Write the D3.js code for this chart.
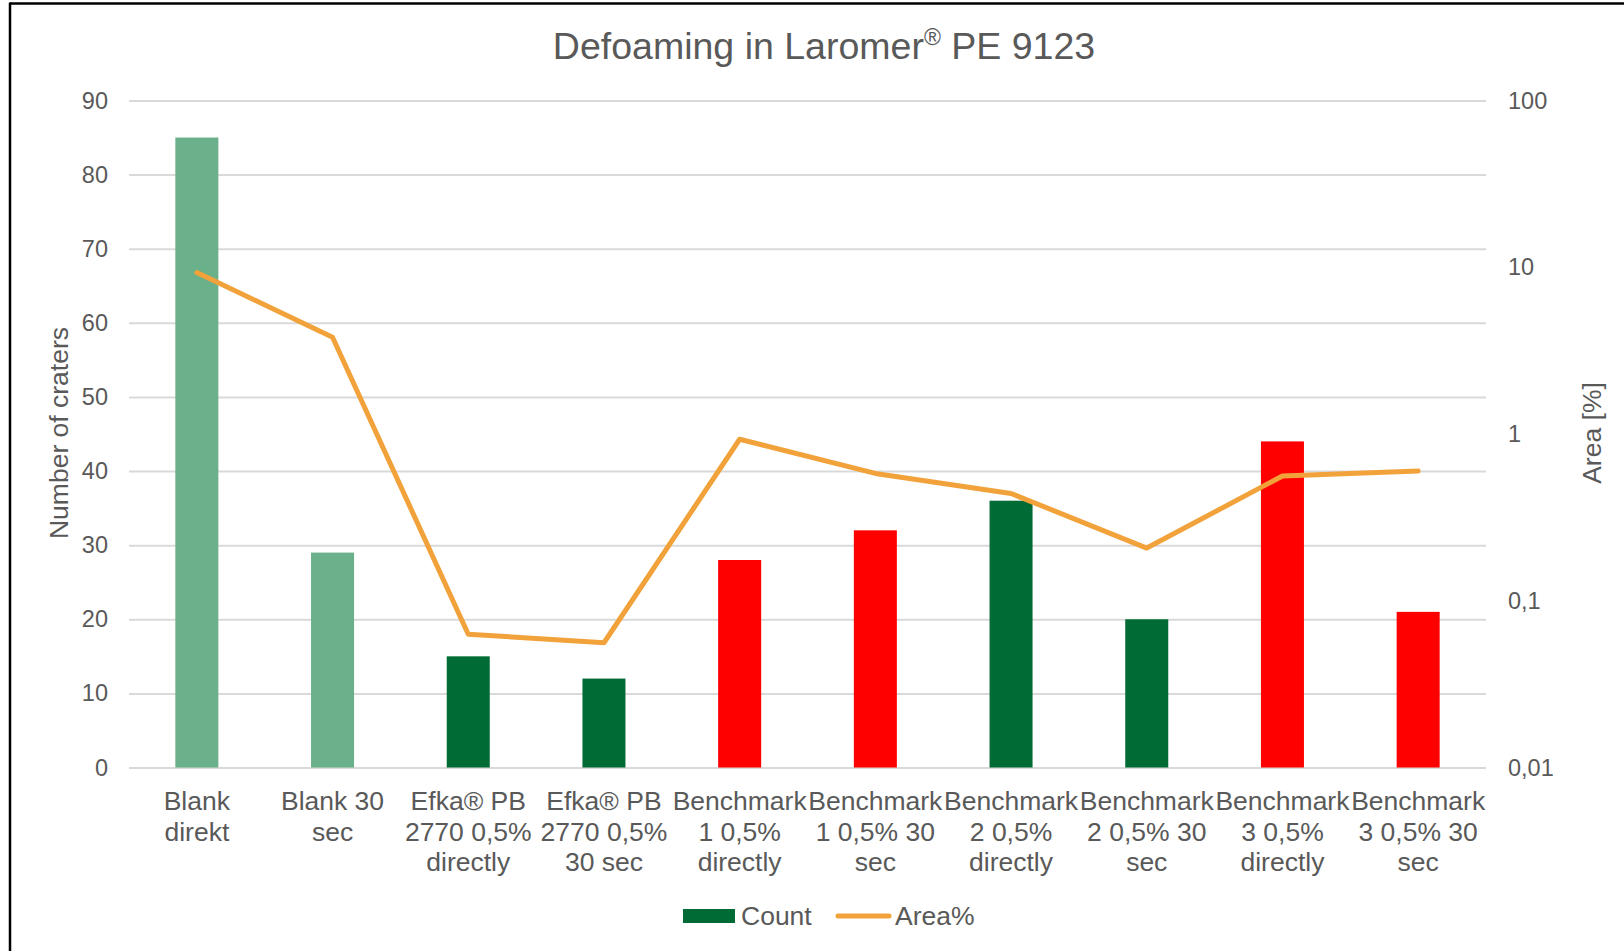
<!DOCTYPE html>
<html>
<head>
<meta charset="utf-8">
<script src="https://cdn.jsdelivr.net/npm/d3@7"></script>
<style>
  html, body { margin: 0; padding: 0; background: #fff; }
  svg { display: block; }
  text { font-family: "Liberation Sans", Arial, sans-serif; fill: #595959; }
</style>
</head>
<body>
<svg id="chart" width="1624" height="951"></svg>
<script>
// ---- data ----
const categories = [
  ["Blank", "direkt"],
  ["Blank 30", "sec"],
  ["Efka® PB", "2770 0,5%", "directly"],
  ["Efka® PB", "2770 0,5%", "30 sec"],
  ["Benchmark", "1 0,5%", "directly"],
  ["Benchmark", "1 0,5% 30", "sec"],
  ["Benchmark", "2 0,5%", "directly"],
  ["Benchmark", "2 0,5% 30", "sec"],
  ["Benchmark", "3 0,5%", "directly"],
  ["Benchmark", "3 0,5% 30", "sec"]
];
const countValues = [85, 29, 15, 12, 28, 32, 36, 20, 44, 21];
const areaValues = [9.3, 3.8, 0.063, 0.056, 0.93, 0.58, 0.44, 0.207, 0.56, 0.6];
const barGroup = ["blank", "blank", "good", "good", "bad", "bad", "good", "good", "bad", "bad"];
const leftTicks = [0, 10, 20, 30, 40, 50, 60, 70, 80, 90];
const rightTicks = [0.01, 0.1, 1, 10, 100];
const rightTickLabels = ["0,01", "0,1", "1", "10", "100"];
const seriesNames = ["Count", "Area%"];
const titleMain = "Defoaming in Laromer";
const titleSup = "®";
const titleRest = " PE 9123";
const yLeftTitle = "Number of craters";
const yRightTitle = "Area [%]";

// ---- styles ----
const groupColor = { blank: "#6AB08A", good: "#006B35", bad: "#FF0000" };
const lineColor = "#F2A23A";
const gridColor = "#D9D9D9";

const svg = d3.select("#chart");
const plot = { left: 129, right: 1486, top: 100.5, bottom: 767.5 };

// border (top + left)
svg.append("line").attr("x1", 10).attr("x2", 1624).attr("y1", 3.5).attr("y2", 3.5)
  .attr("stroke", "#000").attr("stroke-width", 2.5);
svg.append("line").attr("x1", 10).attr("x2", 10).attr("y1", 2.5).attr("y2", 951)
  .attr("stroke", "#000").attr("stroke-width", 2.5);

const idx = d3.range(categories.length);
const x = d3.scaleBand().domain(idx).range([plot.left, plot.right])
  .paddingInner(0.683).paddingOuter(0.3415);
const yL = d3.scaleLinear().domain([0, 90]).range([plot.bottom, plot.top]);
const yR = d3.scaleLog().domain([0.01, 100]).range([plot.bottom, plot.top]);

// gridlines + left axis
const gL = svg.append("g").attr("transform", `translate(${plot.left},0)`)
  .call(d3.axisLeft(yL).tickValues(leftTicks).tickSize(-(plot.right - plot.left)).tickPadding(21));
gL.select(".domain").remove();
gL.selectAll(".tick line").attr("stroke", gridColor).attr("stroke-width", 2);
gL.selectAll(".tick text").style("font-size", "23.5px").attr("fill", "#595959")
  .style("font-family", "'Liberation Sans', Arial, sans-serif");

// right axis
const gR = svg.append("g").attr("transform", `translate(${plot.right},0)`)
  .call(d3.axisRight(yR).tickValues(rightTicks).tickSize(0).tickPadding(22)
    .tickFormat((d, i) => rightTickLabels[i]));
gR.select(".domain").remove();
gR.selectAll(".tick text").style("font-size", "23.5px").attr("fill", "#595959")
  .style("font-family", "'Liberation Sans', Arial, sans-serif");

// bars
svg.append("g").selectAll("rect").data(idx).join("rect")
  .attr("x", i => x(i))
  .attr("width", x.bandwidth())
  .attr("y", i => yL(countValues[i]))
  .attr("height", i => yL(0) - yL(countValues[i]))
  .attr("fill", i => groupColor[barGroup[i]]);

// line
const line = d3.line()
  .x((d, i) => x(i) + x.bandwidth() / 2)
  .y(d => yR(d));
svg.append("path").datum(areaValues)
  .attr("d", line)
  .attr("fill", "none")
  .attr("stroke", lineColor)
  .attr("stroke-width", 5)
  .attr("stroke-linejoin", "round")
  .attr("stroke-linecap", "round");

// category labels
const lab = svg.append("g");
idx.forEach(i => {
  const t = lab.append("text")
    .attr("text-anchor", "middle")
    .style("font-size", "26.5px");
  categories[i].forEach((s, k) => {
    t.append("tspan").attr("x", x(i) + x.bandwidth() / 2)
      .attr("y", 810 + k * 30.5).text(s);
  });
});

// title
const title = svg.append("text").attr("x", 824).attr("y", 59)
  .attr("text-anchor", "middle").style("font-size", "37.5px");
title.append("tspan").text(titleMain);
title.append("tspan").attr("dy", -14).style("font-size", "23px").text(titleSup);
title.append("tspan").attr("dy", 14).text(titleRest);

// axis titles
svg.append("text").attr("transform", "translate(68,433) rotate(-90)")
  .attr("text-anchor", "middle").style("font-size", "26.5px").text(yLeftTitle);
svg.append("text").attr("transform", "translate(1601,433) rotate(-90)")
  .attr("text-anchor", "middle").style("font-size", "26.5px").text(yRightTitle);

// legend
const lg = svg.append("g");
lg.append("rect").attr("x", 683).attr("y", 909).attr("width", 52).attr("height", 14)
  .attr("fill", groupColor.good);
lg.append("text").attr("x", 741).attr("y", 925).style("font-size", "26.5px").text(seriesNames[0]);
lg.append("line").attr("x1", 838).attr("x2", 889).attr("y1", 916).attr("y2", 916)
  .attr("stroke", lineColor).attr("stroke-width", 5).attr("stroke-linecap", "round");
lg.append("text").attr("x", 895).attr("y", 925).style("font-size", "26.5px").text(seriesNames[1]);
</script>
</body>
</html>
